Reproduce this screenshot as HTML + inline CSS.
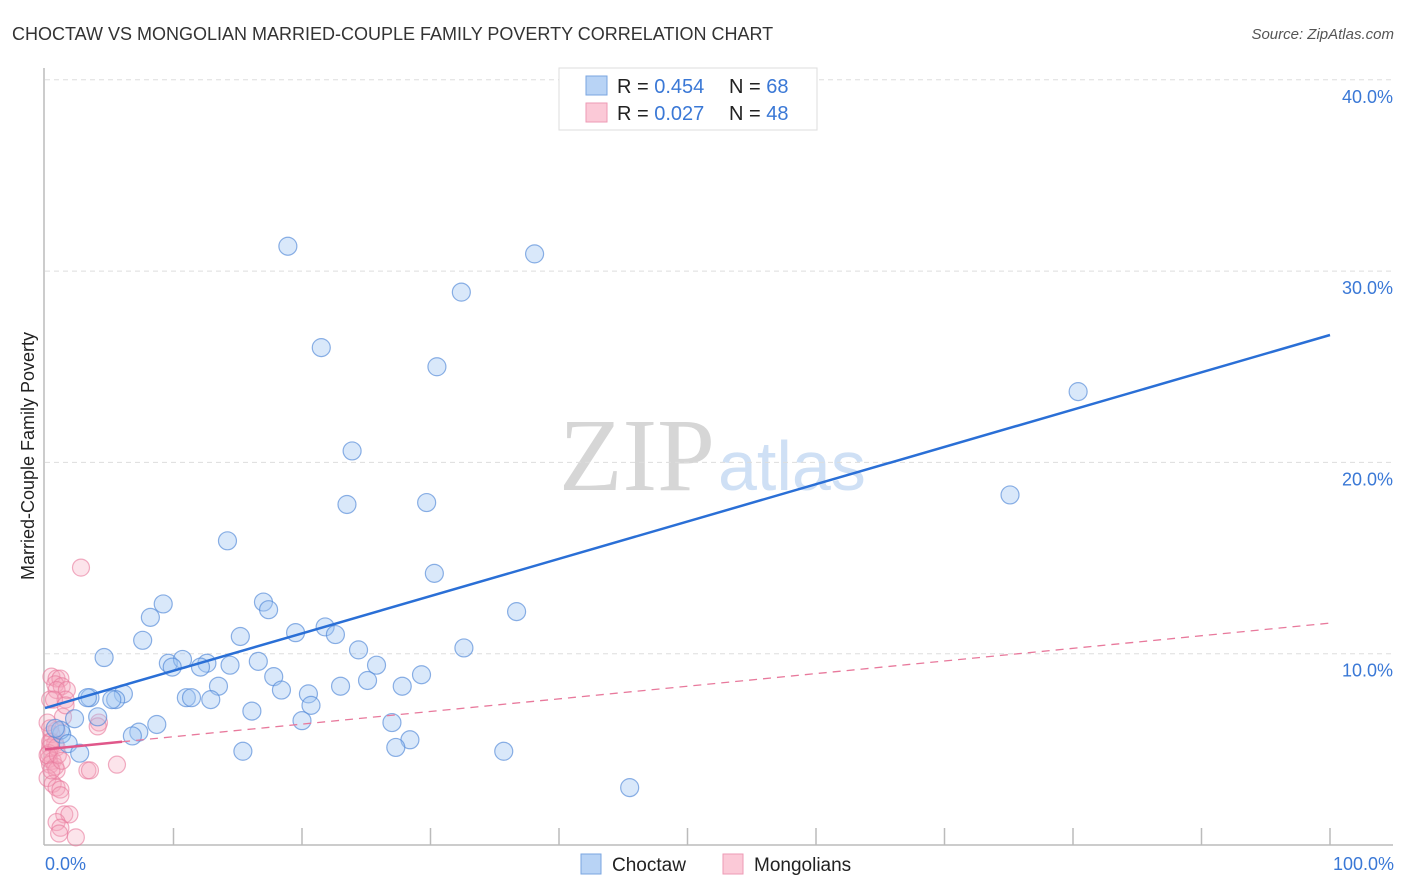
<!DOCTYPE html>
<html><head><meta charset="utf-8"><style>
body{margin:0;background:#fff;font-family:"Liberation Sans",sans-serif;}
svg{display:block}
</style></head><body>
<svg id="chart" width="1406" height="892" xmlns="http://www.w3.org/2000/svg">
<text x="12" y="40" font-size="18" fill="#333">CHOCTAW VS MONGOLIAN MARRIED-COUPLE FAMILY POVERTY CORRELATION CHART</text>
<text x="1394" y="39" font-size="15" fill="#555" font-style="italic" text-anchor="end">Source: ZipAtlas.com</text>
<g>
<text x="715" y="490" font-size="104" fill="#d6d6d6" text-anchor="end" font-family="Liberation Serif,serif">ZIP</text>
<text x="718" y="490" font-size="70" fill="#cfe0f5">atlas</text>
</g>
<g id="grid"></g>
<line x1="44" y1="68" x2="44" y2="845" stroke="#bbb" stroke-width="1.5"/>
<line x1="44" y1="845" x2="1393" y2="845" stroke="#bbb" stroke-width="1.5"/>
<g id="xt"></g>
<text x="45" y="870" font-size="18" fill="#3a78d6">0.0%</text>
<text x="1394" y="870" font-size="18" fill="#3a78d6" text-anchor="end">100.0%</text>
<text transform="translate(34,456) rotate(-90)" font-size="18" fill="#222" text-anchor="middle">Married-Couple Family Poverty</text>
<g id="pts"></g>
<g id="lines"></g>
<g>
<rect x="559" y="68" width="258" height="62" fill="#fff" stroke="#ddd"/>
<rect x="586" y="76" width="21" height="19" fill="#b8d3f5" stroke="#7aa6e0"/>
<rect x="586" y="103" width="21" height="19" fill="#fbc9d7" stroke="#ee9ab4"/>
<text x="617" y="93" font-size="20" fill="#222">R = <tspan fill="#3a78d6">0.454</tspan><tspan x="729">N = </tspan><tspan fill="#3a78d6">68</tspan></text>
<text x="617" y="120" font-size="20" fill="#222">R = <tspan fill="#3a78d6">0.027</tspan><tspan x="729">N = </tspan><tspan fill="#3a78d6">48</tspan></text>
</g>
<g>
<rect x="581" y="854" width="20" height="20" fill="#b8d3f5" stroke="#7aa6e0"/>
<text x="612" y="871" font-size="19" fill="#222">Choctaw</text>
<rect x="723" y="854" width="20" height="20" fill="#fbc9d7" stroke="#ee9ab4"/>
<text x="754" y="871" font-size="19" fill="#222">Mongolians</text>
</g>
</svg>
<script>
const yTicks=[10,20,30,40];
const yTickLabels=["10.0%","20.0%","30.0%","40.0%"];
const xTicks=[10,20,30,40,50,60,70,80,90,100];
const choctawX=[18.9,38.1,32.4,21.5,30.5,80.4,23.9,23.5,29.7,75.1,14.2,30.3,9.2,17.0,8.2,17.4,36.7,21.8,7.6,15.2,19.5,22.6,32.6,24.4,4.6,9.6,10.7,9.9,12.6,12.1,14.4,16.6,25.8,17.8,29.3,25.1,13.5,6.1,18.4,23.0,20.5,27.8,3.5,3.3,11.0,11.4,5.5,5.2,12.9,20.7,4.1,16.1,8.7,2.3,20.0,27.0,7.3,6.8,1.3,1.2,0.8,1.8,2.7,15.4,28.4,27.3,35.7,45.5];
const choctawY=[31.3,30.9,28.9,26.0,25.0,23.7,20.6,17.8,17.9,18.3,15.9,14.2,12.6,12.7,11.9,12.3,12.2,11.4,10.7,10.9,11.1,11.0,10.3,10.2,9.8,9.5,9.7,9.3,9.5,9.3,9.4,9.6,9.4,8.8,8.9,8.6,8.3,7.9,8.1,8.3,7.9,8.3,7.7,7.7,7.7,7.7,7.6,7.6,7.6,7.3,6.7,7.0,6.3,6.6,6.5,6.4,5.9,5.7,5.8,6.0,6.1,5.3,4.8,4.9,5.5,5.1,4.9,3.0];
const mongolX=[2.8,0.5,0.9,1.2,0.8,1.3,0.9,1.7,0.4,1.6,1.4,4.2,4.1,0.9,0.5,0.4,0.8,0.4,0.3,0.3,0.6,0.4,0.8,3.3,5.6,0.9,3.5,0.2,0.6,0.9,1.2,1.2,1.5,1.9,0.9,1.2,1.1,2.4,0.9,0.2,0.5,1.0,0.5,1.3,0.7,1.6,0.2,0.4];
const mongolY=[14.5,8.8,8.7,8.7,8.4,8.3,8.1,8.1,7.6,7.6,6.7,6.4,6.2,6.0,5.8,5.4,5.3,5.1,4.8,4.5,4.4,4.2,4.1,3.9,4.2,3.9,3.9,3.5,3.2,3.0,2.9,2.6,1.6,1.6,1.2,0.9,0.6,0.4,5.1,4.7,5.4,4.7,3.9,4.4,7.6,7.3,6.4,6.1];
const choctawTrend=[[0,7.16],[100,26.66]];
const mongolTrend=[[0,5.0],[100,11.6]];
const mongolSolidEnd=6;
const X=v=>45+v*12.85, Y=v=>845-v*19.13;
const NS="http://www.w3.org/2000/svg";
function mk(t,a,p){const e=document.createElementNS(NS,t);for(const k in a)e.setAttribute(k,a[k]);p.appendChild(e);return e;}
const grid=document.getElementById('grid');
yTicks.forEach((v,i)=>{
 const l=mk('line',{x1:45,x2:1393,y1:Y(v),y2:Y(v),stroke:'#ddd','stroke-dasharray':'5,4'},grid);
 
 
 const t=mk('text',{x:1393,y:Y(v)+23,'font-size':18,fill:'#3a78d6','text-anchor':'end'},grid);
 t.textContent=yTickLabels[i];
 
 
});
const xt=document.getElementById('xt');
xTicks.forEach(v=>{
 const l=mk('line',{x1:X(v),x2:X(v),y1:828,y2:845,stroke:'#bbb','stroke-width':1.5},xt);
 
 
});
const pts=document.getElementById('pts');
mongolX.forEach((x,i)=>{
 const c=mk('circle',{cx:X(x),cy:Y(mongolY[i]),r:8.5,fill:'rgba(246,165,190,0.3)',stroke:'rgba(232,120,155,0.6)','stroke-width':1.2},pts);
 
 
});
choctawX.forEach((x,i)=>{
 const c=mk('circle',{cx:X(x),cy:Y(choctawY[i]),r:9,fill:'rgba(160,198,242,0.4)',stroke:'rgba(80,135,215,0.65)','stroke-width':1.2},pts);
 
 
});
const lines=document.getElementById('lines');
const lerp=(tr,x)=>tr[0][1]+(tr[1][1]-tr[0][1])*(x-tr[0][0])/(tr[1][0]-tr[0][0]);
let l=mk('line',{x1:X(mongolSolidEnd),y1:Y(lerp(mongolTrend,mongolSolidEnd)),x2:X(mongolTrend[1][0]),y2:Y(mongolTrend[1][1]),stroke:'#e8799c','stroke-width':1.3,'stroke-dasharray':'8,6'},lines);


l=mk('line',{x1:X(mongolTrend[0][0]),y1:Y(mongolTrend[0][1]),x2:X(mongolSolidEnd),y2:Y(lerp(mongolTrend,mongolSolidEnd)),stroke:'#e0578a','stroke-width':2.5},lines);


l=mk('line',{x1:X(choctawTrend[0][0]),y1:Y(choctawTrend[0][1]),x2:X(choctawTrend[1][0]),y2:Y(choctawTrend[1][1]),stroke:'#2a6fd6','stroke-width':2.5},lines);


</script>
</body></html>
